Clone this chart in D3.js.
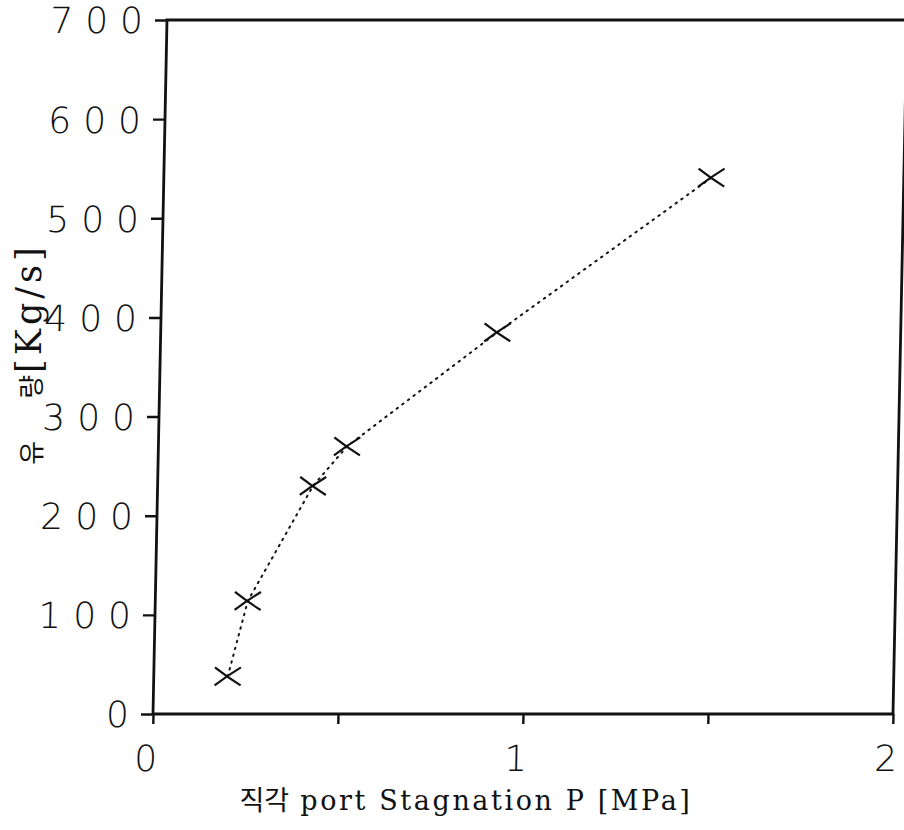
<!DOCTYPE html>
<html>
<head>
<meta charset="utf-8">
<script src="https://cdn.jsdelivr.net/npm/d3@7/dist/d3.min.js"></script>
<style>
html,body{margin:0;padding:0;background:#fff;}
svg{display:block;}
</style>
</head>
<body>
<script>
// Data
const pressure = [0.20, 0.25, 0.42, 0.51, 0.91, 1.48];   // MPa
const flow     = [38, 114, 230, 270, 385, 541];          // Kg/s
const yTicks = [0, 100, 200, 300, 400, 500, 600, 700];
const xTicks = [0, 0.5, 1, 1.5, 2];
const xTickLabels = ["0", "", "1", "", "2"];
const xTitleKo = "직각";
const xTitleEn = " port Stagnation P [MPa]";
const yTitleKo1 = "유";
const yTitleKo2 = "량";
const yTitleEn = "[Kg/s]";

const W = 904, H = 830;
const pL = 153, pR = 893, pT = 20, pB = 714;

const svg = d3.select("body").append("svg").attr("width", W).attr("height", H);

const x = d3.scaleLinear().domain([0, 2]).range([pL, pR]);
const y = d3.scaleLinear().domain([0, 700]).range([pB, pT]);

// scanned plot is slightly sheared
const skew = Math.atan(-14 / 694) * 180 / Math.PI;
const g = svg.append("g")
  .attr("transform", `translate(0,${pB}) skewX(${skew}) translate(0,${-pB})`);

const ink = "#111";

// frame
g.append("rect").attr("x", pL).attr("y", pT)
  .attr("width", pR - pL).attr("height", pB - pT)
  .attr("fill", "none").attr("stroke", ink).attr("stroke-width", 2.8);
// top line runs on past the right edge
g.append("line").attr("x1", pR).attr("x2", pR + 30).attr("y1", pT).attr("y2", pT)
  .attr("stroke", ink).attr("stroke-width", 2.8);

const tickFont = "'DejaVu Sans', sans-serif";

// y axis
const yAxis = d3.axisLeft(y).tickValues(yTicks).tickSize(12).tickSizeOuter(0).tickPadding(0)
  .tickFormat(d3.format("d"));
const ya = g.append("g").attr("transform", `translate(${pL},0)`).call(yAxis);
ya.select(".domain").remove();
ya.selectAll(".tick line").attr("stroke", ink).attr("stroke-width", 2.4);
ya.selectAll(".tick text")
  .attr("font-family", tickFont).attr("font-weight", 200).attr("font-size", 36)
  .attr("letter-spacing", 12).attr("fill", ink).attr("dy", "0.36em");

// x axis
const xAxis = d3.axisBottom(x).tickValues(xTicks).tickSize(10).tickSizeOuter(0).tickPadding(27)
  .tickFormat((d, i) => xTickLabels[i]);
const xa = g.append("g").attr("transform", `translate(0,${pB})`).call(xAxis);
xa.select(".domain").remove();
xa.selectAll(".tick line").attr("stroke", ink).attr("stroke-width", 2.4);
xa.selectAll(".tick text")
  .attr("font-family", tickFont).attr("font-weight", 200).attr("font-size", 36)
  .attr("fill", ink).attr("dx", -7).attr("dy", "0.55em");

// dotted line
const pts = pressure.map((p, i) => [x(p), y(flow[i])]);
g.append("path").datum(pts)
  .attr("d", d3.line())
  .attr("fill", "none").attr("stroke", ink).attr("stroke-width", 2)
  .attr("stroke-dasharray", "1.5,5.5").attr("stroke-linecap", "round");

// X markers
const mw = 13, mh = 9;
g.selectAll(".mk").data(pts).join("path").attr("class", "mk")
  .attr("d", d => `M${d[0]-mw},${d[1]-mh}Q${d[0]},${d[1]+1} ${d[0]+mw},${d[1]+mh}` +
                  `M${d[0]-mw},${d[1]+mh}Q${d[0]},${d[1]-1} ${d[0]+mw},${d[1]-mh}`)
  .attr("fill", "none").attr("stroke", ink).attr("stroke-width", 2.2);

const titleFont = "'DejaVu Serif', 'Liberation Serif', serif";

// x title
const xt = svg.append("text").attr("x", 466).attr("y", 810).attr("text-anchor", "middle")
  .attr("fill", ink);
xt.append("tspan").attr("font-family", "'Noto Sans CJK KR', sans-serif").attr("font-size", 27)
  .text(xTitleKo);
xt.append("tspan").attr("font-family", titleFont).attr("font-size", 27)
  .attr("font-weight", 300).attr("letter-spacing", 2.6)
  .text(xTitleEn);

// y title
const yt = svg.append("text").attr("transform", "translate(41,354) rotate(-90)")
  .attr("text-anchor", "middle").attr("fill", ink);
yt.append("tspan").attr("font-family", "'Noto Sans CJK KR', sans-serif").attr("font-size", 26)
  .text(yTitleKo1);
yt.append("tspan").attr("font-family", "'Noto Sans CJK KR', sans-serif").attr("font-size", 26)
  .attr("dx", 42).text(yTitleKo2);
yt.append("tspan").attr("font-family", titleFont).attr("font-size", 35)
  .attr("font-weight", 300).attr("letter-spacing", 4)
  .attr("dx", 2).text(yTitleEn);
</script>
</body>
</html>
